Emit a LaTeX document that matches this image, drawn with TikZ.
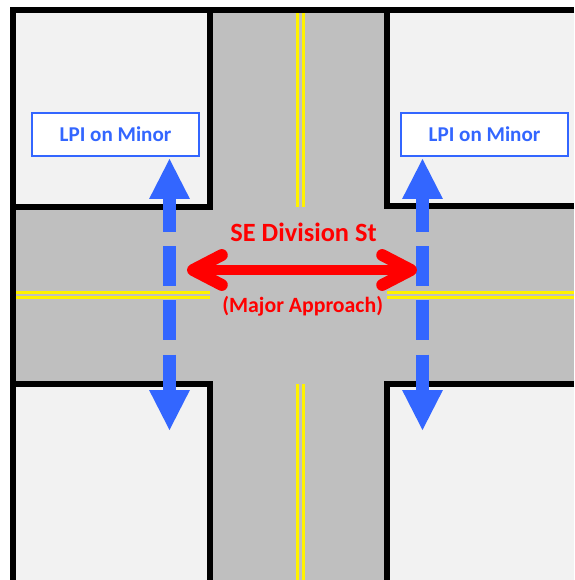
\documentclass[tikz,border=0pt]{standalone}
\usepackage{fontspec}
\setmainfont{Carlito}
\usetikzlibrary{arrows.meta}
\definecolor{road}{RGB}{191,191,191}
\definecolor{lot}{RGB}{242,242,242}
\definecolor{lpiblue}{RGB}{51,102,255}
\tikzset{
  curb/.style={line width=3.2pt, black},
  centerline/.style={line width=1.7pt, yellow},
  lpi/.style={draw=lpiblue, line width=0.9pt, fill=white, text=lpiblue,
    font=\bfseries\fontsize{12}{14}\selectfont, minimum width=3.34cm, minimum height=0.86cm},
  minor/.style={lpiblue, line width=7.4pt, dash pattern=on 22.7pt off 8.2pt, dash phase=4pt,
    {Triangle[length=22.7pt,width=23.2pt,line width=0pt]}-{Triangle[length=22.7pt,width=23.2pt,line width=0pt]}},
  major/.style={red, line width=5.7pt,
    {Straight Barb[length=16.4pt,width=17pt,round,line width=6.8pt]}-{Straight Barb[length=16.4pt,width=17pt,round,line width=6.8pt]}},
  streetname/.style={text=red, font=\bfseries\fontsize{15}{17}\selectfont}
}

\begin{document}
\begin{tikzpicture}[x=0.02cm, y=-0.02cm]
\useasboundingbox (0,0) rectangle (574,580);
	% pavement and the four corner lots
	\fill[road] (13,10) rectangle (574,580);
	\fill[lot] (13,10) rectangle (210,207);
	\fill[lot] (387,10) rectangle (574,206);
	\fill[lot] (13,384) rectangle (210,580);
	\fill[lot] (387,384) rectangle (574,580);
	% double yellow centre lines
	\foreach \c in {297,303} {
		\draw[centerline] (\c,10) -- (\c,207);
		\draw[centerline] (\c,384) -- (\c,580);
	}
	\foreach \c in {292.3,297.5} {
		\draw[centerline] (13,\c) -- (210,\c);
		\draw[centerline] (387,\c) -- (574,\c);
	}
	% curb lines
	\draw[curb] (574,10) -- (13,10) -- (13,580);
	\draw[curb] (210,10) -- (210,207) -- (13,207);
	\draw[curb] (387,10) -- (387,206) -- (574,206);
	\draw[curb] (13,384) -- (210,384) -- (210,580);
	\draw[curb] (574,384) -- (387,384) -- (387,580);
	% minor street phases
	\coordinate (wn) at (169.5,159);
	\coordinate (ws) at (169.5,430);
	\coordinate (en) at (422.5,159);
	\coordinate (es) at (422.5,430);
	\draw[minor] (wn) -- (ws);
	\draw[minor] (en) -- (es);
	% major approach
	\coordinate (mw) at (187,270);
	\coordinate (me) at (417,270);
	\draw[major] (mw) -- (me);
	\node[streetname] (street) at (303.5,232) {SE Division St};
	\node[streetname, font=\bfseries\fontsize{12.4}{14}\selectfont] (approach) at (302.7,306) {(Major Approach)};
	\node[lpi] (lpiw) at (115.5,134.5) {LPI on Minor};
	\node[lpi] (lpie) at (484.5,134.5) {LPI on Minor};
\end{tikzpicture}
\end{document}
